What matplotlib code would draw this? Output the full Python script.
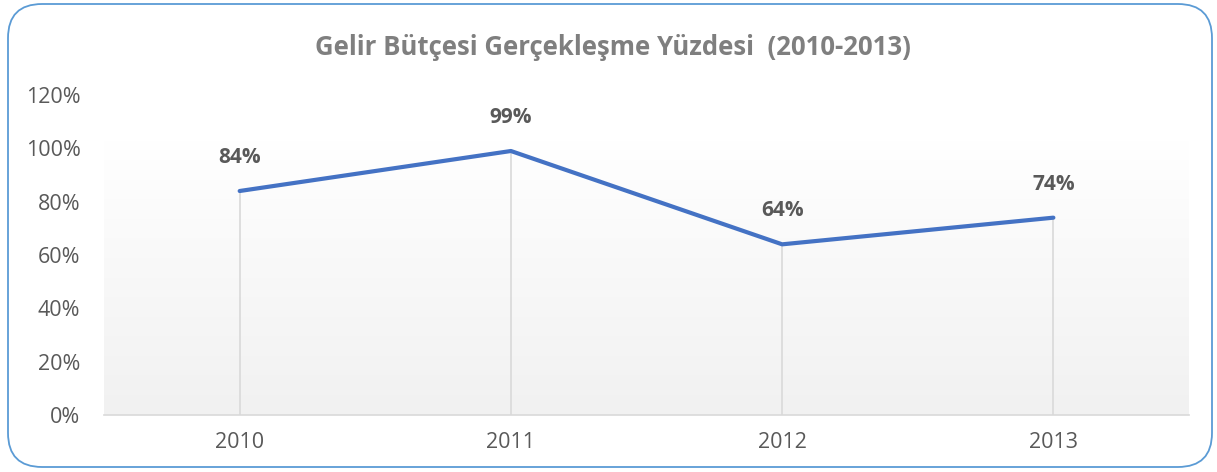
import matplotlib.pyplot as plt
import numpy as np
from matplotlib.patches import FancyBboxPatch

# data
years = ['2010', '2011', '2012', '2013']
rates = [0.84, 0.99, 0.64, 0.74]
labels = ['84%', '99%', '64%', '74%']

plt.rcParams['font.family'] = ['Open Sans', 'DejaVu Sans']

fig = plt.figure(figsize=(12.17, 4.72), dpi=100)
ax = fig.add_axes([0.0855, 0.1208, 0.8915, 0.6779])

x = np.arange(len(years))

# gradient background (plot area fill)
grad = np.linspace(0, 1, 256).reshape(-1, 1)
ax.imshow(grad, cmap=plt.matplotlib.colors.LinearSegmentedColormap.from_list(
    'g', ['#f1f1f1', '#ffffff']), aspect='auto', origin='lower',
    extent=[-0.5, 3.5, 0, 1.03], zorder=0)

# drop lines
ax.vlines(x, 0, rates, colors='#d9d9d9', linewidth=1.2, zorder=1)

ax.plot(x, rates, color='#4472c4', linewidth=3, solid_capstyle='round', zorder=3)

for xi, r, lab in zip(x, rates, labels):
    ax.annotate(lab, (xi, r), xytext=(0, 24), textcoords='offset points',
                ha='center', va='center', fontsize=15, fontweight='bold', color='#595959')

ax.set_xlim(-0.5, 3.5)
ax.set_ylim(0, 1.2)
ax.set_xticks(x)
ax.set_xticklabels(years)
ax.set_yticks(np.arange(0, 1.21, 0.2))
ax.set_yticklabels([f'{int(round(v * 100))}%' for v in np.arange(0, 1.21, 0.2)])
ax.tick_params(length=0, labelsize=15.5, colors='#595959')
ax.tick_params(axis='y', pad=17)
ax.tick_params(axis='x', pad=12)
for s in ['top', 'right', 'left']:
    ax.spines[s].set_visible(False)
ax.spines['bottom'].set_color('#d9d9d9')
ax.spines['bottom'].set_linewidth(1.2)
ax.patch.set_alpha(0)

fig.text(0.504, 0.9, 'Gelir Bütçesi Gerçekleşme Yüzdesi  (2010-2013)',
         ha='center', va='center', fontsize=18.5, fontweight='bold', color='#7f7f7f')

# rounded border
border = FancyBboxPatch((8 / 1217, 5 / 472), 1204 / 1217, 463 / 472,
                        boxstyle='round,pad=0,rounding_size=0.028',
                        transform=fig.transFigure, facecolor='none',
                        edgecolor='#5b9bd5', linewidth=1.3,
                        mutation_aspect=1217 / 472)
fig.patches.append(border)

fig.savefig('out.png', dpi=100)
